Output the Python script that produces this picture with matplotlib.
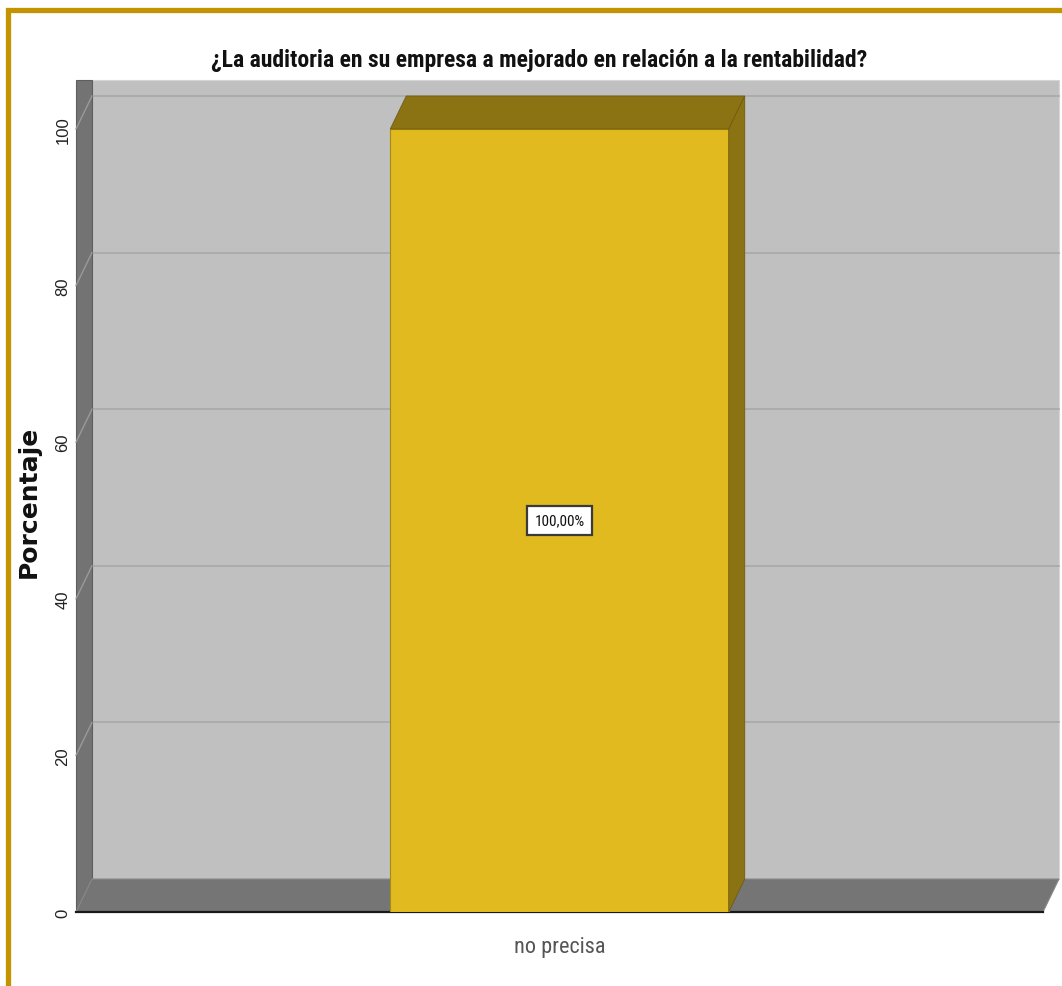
import matplotlib
matplotlib.use("Agg")
import matplotlib.pyplot as plt
from matplotlib.patches import Rectangle

# data
categories = ["no precisa"]
percentages = [100.0]
bar_labels = ["100,00%"]
y_ticks = [0, 20, 40, 60, 80, 100]

title = "¿La auditoria en su empresa a mejorado en relación a la rentabilidad?"
ylabel = "Porcentaje"

NARROW = ["Roboto Condensed", "Liberation Sans", "DejaVu Sans"]

W, H = 1062, 987
fig = plt.figure(figsize=(W / 100, H / 100), dpi=100)
fig.patch.set_facecolor("white")

# front plane of the 3d box, in pixels
left_px, right_px, bottom_px, top_px = 76, 1043, 913, 130
ax = fig.add_axes([left_px / W, (H - bottom_px) / H,
                   (right_px - left_px) / W, (bottom_px - top_px) / H])
ax.set_xlim(-1, 1)
ax.set_ylim(0, 100)
ax.set_facecolor("none")
for s in ax.spines.values():
    s.set_visible(False)

# depth offset in data units (17px right, 33px up)
DX = 16 / ((right_px - left_px) / 2)
DY = 33 / ((bottom_px - top_px) / 100)
wall_top = 102

wall_col = "#c0c0c0"
dark_col = "#737373"

# back wall
ax.fill([-1 + DX, 1 + DX, 1 + DX, -1 + DX],
        [DY, DY, wall_top + DY, wall_top + DY],
        color=wall_col, ec="#d6d6d6", lw=0.8, zorder=0.5, clip_on=False)
# gridlines on back wall + side wall
for v in y_ticks[1:]:
    ax.plot([-1 + DX, 1 + DX], [v + DY, v + DY], color="#a9a9a9", lw=1.2,
            zorder=0.6, clip_on=False)
# left side wall
ax.fill([-1, -1, -1 + DX, -1 + DX], [0, wall_top + DY, wall_top + DY, DY],
        color=dark_col, ec="#5e5e5e", lw=0.8, zorder=0.7, clip_on=False)
for v in y_ticks[1:]:
    ax.plot([-1, -1 + DX], [v, v + DY], color="#9a9a9a", lw=1.0,
            zorder=0.8, clip_on=False)
# floor
ax.fill([-1, 1, 1 + DX, -1 + DX], [0, 0, DY, DY],
        color="#757575", ec="#8a8a8a", lw=0.8, zorder=0.9, clip_on=False)
ax.plot([-1, 1], [0, 0], color="#1a1a1a", lw=1.6, zorder=0.95, clip_on=False)

# bars
xpos = list(range(len(categories)))
bars = ax.bar(xpos, percentages, width=0.7, color="#e0ba1f",
              edgecolor="#a88a10", linewidth=0.8, zorder=3)
for rect, lab in zip(bars, bar_labels):
    x0 = rect.get_x()
    x1 = x0 + rect.get_width()
    h = rect.get_height()
    ax.fill([x0, x1, x1 + DX, x0 + DX], [h, h, h + DY, h + DY],
            color="#8b7314", ec="#6f5c0e", lw=0.6, zorder=3, clip_on=False)
    ax.fill([x1, x1 + DX, x1 + DX, x1], [0, DY, h + DY, h],
            color="#8b7314", ec="#6f5c0e", lw=0.6, zorder=3, clip_on=False)
    ax.text(x0 + rect.get_width() / 2, h / 2, lab, ha="center", va="center",
            fontsize=11, family=NARROW, color="#111111", zorder=5,
            bbox=dict(boxstyle="square,pad=0.5", fc="white",
                      ec="#3a3a3a", lw=1.6))

ax.set_xticks(xpos)
ax.set_xticklabels(categories, fontsize=16, family=NARROW, color="#555555")
ax.set_yticks(y_ticks)
ax.set_yticklabels([str(t) for t in y_ticks], rotation=90, va="center",
                   fontsize=12, family=["Liberation Sans", "DejaVu Sans"],
                   color="#222222")
ax.tick_params(axis="both", length=0)
ax.tick_params(axis="x", pad=17)
ax.tick_params(axis="y", pad=4)

ax.set_ylabel(ylabel, fontsize=18, fontweight="bold", color="#111111")
ax.yaxis.set_label_coords((41 - left_px) / (right_px - left_px),
                          (bottom_px - 502) / (bottom_px - top_px))

fig.text(539 / W, 1 - 60 / H, title, ha="center", va="center",
         fontsize=17, fontweight="bold", family=NARROW, color="#111111")

# gold frame
fig.patches.append(Rectangle((7.5 / W, -0.05), 1.1, (H - 10.5) / H + 0.05,
                             transform=fig.transFigure, fill=False,
                             ec="#c39300", lw=3.8))

fig.savefig("out.png", dpi=100)
